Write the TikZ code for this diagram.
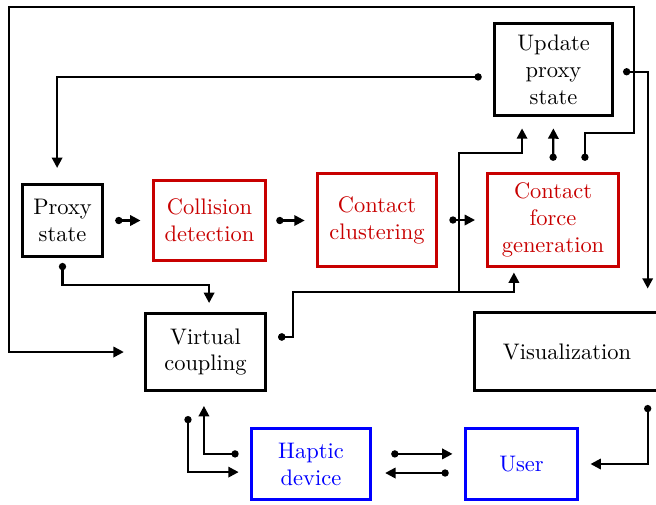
\documentclass[tikz,border=0pt]{standalone}
\usetikzlibrary{arrows.meta}
\definecolor{dkred}{RGB}{200,0,0}
\definecolor{hblue}{RGB}{0,0,255}

\begin{document}
\begin{tikzpicture}[x=0.445pt,y=-0.445pt,
   blk/.style={draw,line width=1.4pt,align=center,inner sep=0pt},
   redblk/.style={blk,draw=dkred,text=dkred},
   blueblk/.style={blk,draw=hblue,text=hblue},
   link/.style={line width=1pt,{Circle[length=3.2pt]}-{Triangle[length=4.6pt,width=4.6pt]},
                shorten <=5pt,shorten >=5pt}]
   \useasboundingbox (0,0) rectangle (656,504);
   % blocks
   \node[blk,minimum width=52.5pt,minimum height=41pt] (upd) at (553.5,69.5) {Update\\proxy\\state};
   \node[blk,minimum width=35.5pt,minimum height=32pt] (proxy) at (62.5,220.5) {Proxy\\state};
   \node[redblk,minimum width=50pt,minimum height=35.5pt] (coll) at (209.5,220.5) {Collision\\detection};
   \node[redblk,minimum width=53pt,minimum height=41.3pt] (clus) at (377,220) {Contact\\clustering};
   \node[redblk,minimum width=58pt,minimum height=41.3pt] (force) at (553,220) {Contact\\force\\generation};
   \node[blk,minimum width=53.3pt,minimum height=34.2pt] (vc) at (205.5,352) {Virtual\\coupling};
   \node[blk,minimum width=82pt,minimum height=34.6pt] (vis) at (567,351.5) {Visualization};
   \node[blueblk,minimum width=53pt,minimum height=31.5pt] (hap) at (311,464) {Haptic\\device};
   \node[blueblk,minimum width=50pt,minimum height=31.5pt] (user) at (521.5,464) {User};
   % main chain
   \draw[link] (proxy.east) -- (proxy.east -| coll.west);
   \draw[link,shorten <=4pt] (coll.east) -- (coll.east -| clus.west);
   \draw[link] (clus.east) -- (clus.east -| force.west);
   \draw[link] (force.north) -- (upd.south);
   % feedback to proxy state and visualization
   \draw[link,shorten >=6.7pt] ([yshift=-3.3pt]upd.west) -| ([xshift=-2.4pt]proxy.north);
   \draw[link,shorten <=4pt,shorten >=10pt] ([yshift=-1pt]upd.east) -| ([xshift=-5.8pt]vis.north east);
   \draw[link,shorten >=9pt] ([xshift=14.2pt]force.north) |- (634,133) |- (9,7) |- (vc.west);
   % virtual coupling
   \draw[link,shorten <=2.2pt,shorten >=4pt] (proxy.south) -- ++(0,27) -| ([xshift=1.6pt]vc.north);
   \draw[link] ([yshift=6.7pt]vc.east) -| (293,292) -| (459,153) -| ([xshift=-14pt]upd.south);
   \draw[link,shorten >=2pt] ([yshift=6.7pt]vc.east) -| (293,292) -| ([xshift=-17.4pt]force.south);
   % device and user
   \draw[link,shorten >=6.2pt] ([yshift=4.5pt]hap.west) -| ([xshift=-0.7pt]vc.south);
   \draw[link,shorten <=10.7pt] ([xshift=-7.8pt]vc.south) |- ([yshift=-3.6pt]hap.west);
   \draw[link,shorten <=8.5pt] ([yshift=4.5pt]hap.east) -- ([yshift=4.5pt]user.west);
   \draw[link,shorten <=6.7pt,shorten >=5.8pt] ([yshift=-4pt]user.west) -- ([yshift=-4pt]hap.east);
   \draw[link,shorten <=5.8pt] ([xshift=-5.8pt]vis.south east) |- (user.east);
\end{tikzpicture}
\end{document}
